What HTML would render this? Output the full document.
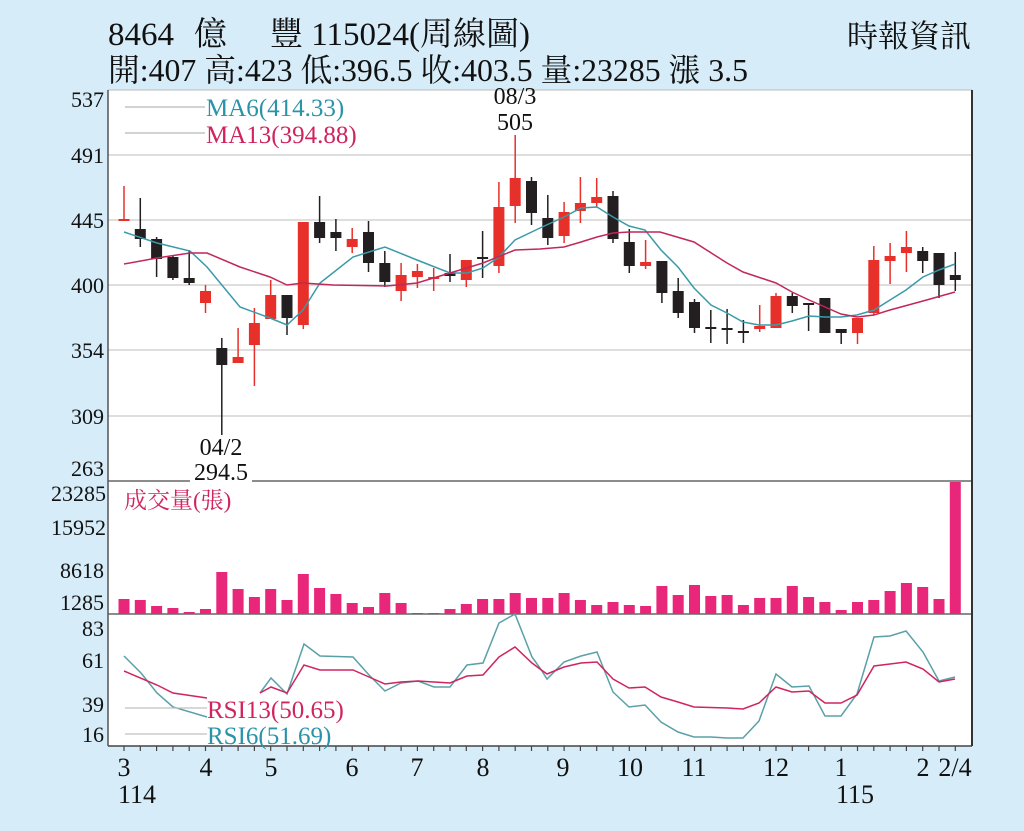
<!DOCTYPE html>
<html><head><meta charset="utf-8"><style>
html,body{margin:0;padding:0;background:#d6ecf8;}
svg{display:block;}
text{font-family:"Liberation Serif","Noto Serif CJK SC","Noto Sans CJK TC",serif;}
</style></head><body>
<svg id="s" width="1024" height="831" viewBox="0 0 1024 831" xmlns="http://www.w3.org/2000/svg">
<rect x="0" y="0" width="1024" height="831" fill="#d6ecf8"/>
<text x="108" y="45" font-size="33" fill="#111">8464</text>
<text x="194" y="45" font-size="33" fill="#111">億</text>
<text x="270" y="45" font-size="33" fill="#111">豐 115024(周線圖)</text>
<text x="108" y="81" font-size="32" fill="#111" textLength="640" lengthAdjust="spacingAndGlyphs">開:407 高:423 低:396.5 收:403.5 量:23285 漲 3.5</text>
<text x="971" y="47" font-size="31" fill="#111" text-anchor="end">時報資訊</text>
<rect x="108" y="90" width="864" height="656" fill="#fff"/>
<g id="grid" stroke="#c9c9c9" stroke-width="1.2"></g>
<line x1="108" y1="90" x2="972" y2="90" stroke="#bbb" stroke-width="1"/>
<line x1="108" y1="481" x2="972" y2="481" stroke="#666" stroke-width="1.5"/>
<line x1="108" y1="614" x2="972" y2="614" stroke="#666" stroke-width="1.5"/>
<line x1="108" y1="746" x2="972" y2="746" stroke="#444" stroke-width="1.5"/>
<line x1="108" y1="90" x2="108" y2="746" stroke="#555" stroke-width="1.5"/>
<line x1="972" y1="90" x2="972" y2="746" stroke="#333" stroke-width="2"/>
<g id="vol"></g>
<g id="cand"></g>
<g id="lines" fill="none" stroke-width="1.5"></g>
<g id="ticks" stroke="#444" stroke-width="1.2"></g>
<g font-size="22" fill="#111" text-anchor="end">
<text x="104" y="107">537</text><text x="104" y="163">491</text><text x="104" y="228">445</text>
<text x="104" y="293">400</text><text x="104" y="358">354</text><text x="104" y="424">309</text><text x="104" y="476">263</text>
<text x="106" y="501">23285</text><text x="106" y="535">15952</text><text x="104" y="578">8618</text><text x="104" y="610">1285</text>
<text x="104" y="636">83</text><text x="104" y="668">61</text><text x="104" y="712">39</text><text x="104" y="742">16</text>
</g>
<line x1="125" y1="107" x2="205" y2="107" stroke="#b8b8b8" stroke-width="1.2"/>
<line x1="125" y1="133" x2="205" y2="133" stroke="#b8b8b8" stroke-width="1.2"/>
<text x="206" y="116" font-size="25" fill="#2a93a8">MA6(414.33)</text>
<text x="206" y="143" font-size="25" fill="#d0245e">MA13(394.88)</text>
<text x="515" y="104" font-size="24" fill="#111" text-anchor="middle">08/3</text>
<text x="515" y="130" font-size="24" fill="#111" text-anchor="middle">505</text>
<text x="221" y="455" font-size="24" fill="#111" text-anchor="middle">04/2</text>
<rect x="190" y="462" width="62" height="22" fill="#fff"/>
<text x="221" y="480" font-size="24" fill="#111" text-anchor="middle">294.5</text>
<text x="124" y="508" font-size="23" fill="#d0245e">成交量(張)</text>
<line x1="125" y1="708" x2="207" y2="708" stroke="#c0c0c0" stroke-width="1.2"/>
<line x1="125" y1="734" x2="207" y2="734" stroke="#c0c0c0" stroke-width="1.2"/>
<text x="207" y="718" font-size="25" fill="#d0245e">RSI13(50.65)</text>
<text x="207" y="744" font-size="25" fill="#2a93a8">RSI6(51.69)</text>
<g font-size="26" fill="#111" text-anchor="middle">
<text x="124" y="776">3</text><text x="137" y="803">114</text>
<text x="206" y="776">4</text><text x="271" y="776">5</text><text x="352" y="776">6</text>
<text x="417" y="776">7</text><text x="483" y="776">8</text><text x="563" y="776">9</text>
<text x="630" y="776">10</text><text x="694" y="776">11</text><text x="776" y="776">12</text>
<text x="841" y="776">1</text><text x="855" y="803">115</text>
<text x="923" y="776">2</text><text x="955" y="776">2/4</text>
</g>
</svg>
<script>
var NS="http://www.w3.org/2000/svg";
function el(p,t,a){var e=document.createElementNS(NS,t);for(var k in a)e.setAttribute(k,a[k]);document.getElementById(p).appendChild(e);return e;}
[155,220,285,350,416].forEach(function(y){el("grid","line",{x1:108,x2:972,y1:y,y2:y});});
function cx(i){return 124+i*16.3;}
var C=[["r",219,221,186,221],["k",229,239,198,247],["k",239,259,237,277],["k",257,278,255,280],["k",278,283,250,285],["r",291,303,285,313],["k",348,365,338,435],["r",357,363,328,363],["r",323,345,308,386],["r",295,319,280,319],["k",295,318,295,335],["r",222,325,222,329],["k",222,238,196,243],["k",232,238,219,251],["r",239,247,228,253],["k",232,263,221,272],["k",263,282,251,287],["r",275,291,263,301],["r",271,277,264,288],["r",277,279,268,291],["k",273,276,254,282],["r",260,280,260,287],["k",257,258,231,278],["r",207,266,182,273],["r",178,206,135,223],["k",181,213,177,225],["k",218,238,195,245],["r",212,236,202,243],["r",203,211,177,223],["r",197,203,178,207],["k",196,239,191,243],["k",242,266,229,273],["r",262,266,240,269],["k",261,293,261,303],["k",291,313,278,318],["k",302,328,299,333],["k",327,328,310,343],["k",328,330,309,344],["k",331,333,320,343],["r",326,329,305,332],["r",296,328,293,328],["k",296,306,293,313],["k",303,305,303,331],["k",298,333,298,333],["k",329,333,329,344],["r",318,333,318,344],["r",260,313,246,315],["r",256,261,243,284],["r",247,253,231,272],["k",251,261,247,273],["k",253,285,253,298],["k",275,280,252,291]];
C.forEach(function(c,i){var x=cx(i),col=c[0]=="r"?"#e8302a":"#231f20";
el("cand","line",{x1:x,x2:x,y1:c[3],y2:c[4],stroke:col,"stroke-width":1.5});
var h=Math.max(c[2]-c[1],2);el("cand","rect",{x:x-5.5,y:c[1],width:11,height:h,fill:col});});
var V=[599,600,606,608,612,609,572,589,597,589,600,574,588,594,603,607,593,603,613,613,609,604,599,599,593,598,598,593,600,605,602,605,606,586,595,585,596,595,605,598,598,586,597,602,610,602,600,591,583,587,599,482];
V.forEach(function(v,i){el("vol","rect",{x:cx(i)-5.5,y:v,width:11,height:614-v,fill:"#e8267a"});});
for(var i=0;i<52;i++){el("ticks","line",{x1:cx(i),x2:cx(i),y1:746,y2:751});}
function pl(pts,col){el("lines","polyline",{points:pts,stroke:col});}
pl("124,232 157,243 190,251 207,267 240,307 270,318 287,325 303,310 320,283 353,257 385,247 417,260 450,273 467,273 483,268 499,257 515,240 540,228 564,217 581,208 597,207 613,217 629,226 645,230 661,250 678,267 694,288 711,305 727,313 743,322 759,325 776,325 792,321 809,316 825,317 841,317 857,315 874,310 890,300 906,290 923,277 939,270 955,264","#3a9aa8");
pl("124,264 157,258 190,253 207,253 240,267 270,277 287,285 303,283 333,285 387,286 417,283 450,273 483,263 515,250 540,249 564,247 581,242 597,237 613,233 629,232 660,232 694,242 727,263 743,272 776,283 792,292 809,300 825,307 841,314 857,317 874,315 890,310 923,301 955,292","#c2275a");
pl("124,656 141,673 157,693 173,707 207,717","#5aa0a8");
pl("260,693 271,678 287,694 304,644 320,656 353,657 369,675 385,691 401,683 418,681 434,687 450,687 467,665 483,663 499,623 515,614 532,657 540,668 547,679 564,662 581,656 597,652 613,692 629,707 645,705 661,722 678,732 694,737 711,737 727,738 743,738 759,721 776,674 792,687 809,686 825,716 841,716 857,694 874,637 890,636 906,631 923,652 939,681 955,677","#5aa0a8");
pl("124,671 157,685 173,693 207,698","#d0245e");
pl("260,693 271,687 287,693 304,665 320,670 353,670 369,677 385,684 401,682 418,681 450,683 467,676 483,675 499,657 515,647 532,663 540,669 547,674 564,667 581,663 597,662 613,679 629,688 645,687 661,697 678,702 694,707 727,708 743,709 759,703 776,687 792,692 809,691 825,703 841,703 857,695 874,666 890,664 906,662 923,669 939,682 955,679","#d0245e");
</script>
</body></html>
